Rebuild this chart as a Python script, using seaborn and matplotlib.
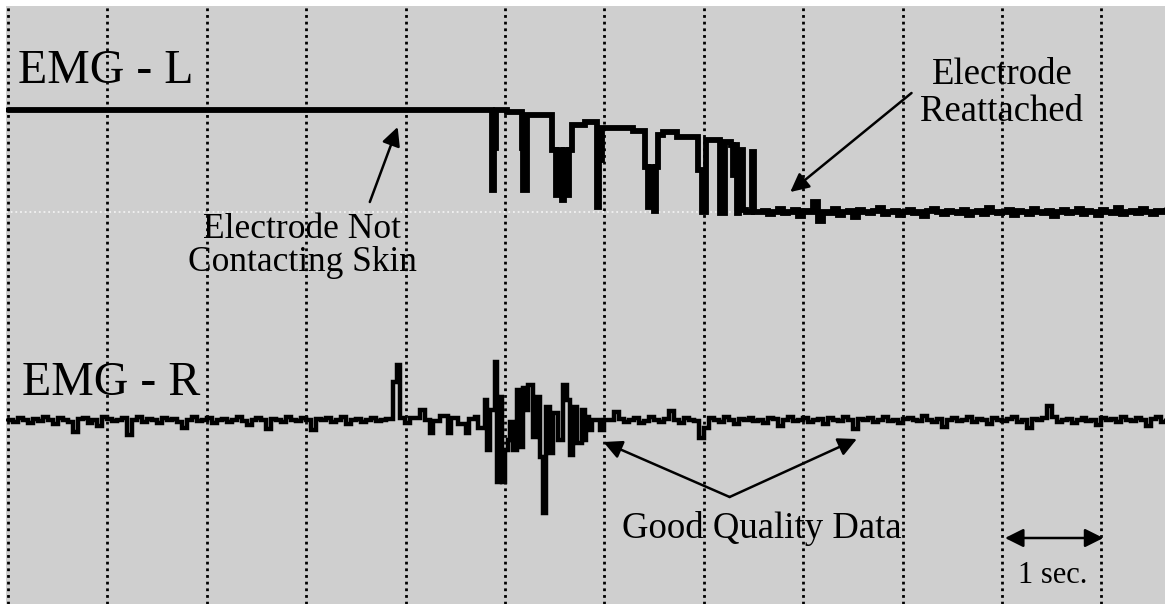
import numpy as np
import pandas as pd
import seaborn as sns
import matplotlib.pyplot as plt

# ---- EMG - L : step breakpoints (time in s, amplitude above baseline) ----
left_t = [0.00, 4.87, 4.89, 4.91, 5.02, 5.17, 5.18, 5.22, 5.47, 5.51, 5.53,
          5.57, 5.59, 5.62, 5.64, 5.67, 5.80, 5.93, 5.95, 5.98, 6.19, 6.29,
          6.41, 6.44, 6.46, 6.50, 6.52, 6.54, 6.59, 6.73, 6.94, 6.98, 7.02,
          7.16, 7.21, 7.27, 7.29, 7.31, 7.33, 7.35, 7.37, 7.39, 7.42, 7.49, 7.51]
left_v = [102, 22, 64, 102, 100, 64, 22, 97, 62, 17, 62,
          12, 62, 17, 62, 87, 90, 5, 52, 84, 84, 81,
          45, 5, 45, 1, 45, 77, 80, 75, 42, 0, 72,
          -1, 70, 67, 37, 67, -1, 37, 62, 2, 0, 60, 0]
# reattached electrode, samples every 0.05 s from 7.55 s
left_noise = [0, 1, -2, 0, 3, -1, 0, 2, -4, 1, 0, 10, -9, 0, -1, 3, -3, 0, 1,
              -5, 2, 0, -1, 1, 4, -2, 0, 1, -3, 0, 2, -1, 0, -4, 1, 3, 0, -2,
              1, 0, -1, 2, -3, 0, 1, -2, 4, 0, -1, 0, 2, -3, 1, 0, -2, 3, 0,
              -1, 1, -4, 0, 2, -1, 0, 3, -2, 1, 0, -3, 2, 0, -1, 4, -2, 0, 1,
              -1, 3, 0, -2, 1, 0, 2]

# ---- EMG - R ----
right_pre = [0, -2, 2, 0, -3, 1, -1, 3, 0, -4,
             2, 0, -2, -12, 1, 2, -3, 0, -6, 3,
             1, -1, 0, 2, -15, 0, 3, -2, 1, 0,
             -3, 2, 0, 1, -2, -8, 0, 3, -1, 0,
             2, -3, 0, 1, -2, 0, 3, -1, -5, 0,
             2, 0, -9, 1, 0, -2, 3, 0, -1, 2,
             0, -10, 1, 0, 2, -2, 0, 3, -4, 0,
             1, -2, 0, 2, -1, 0, 1]
burst_t = [3.87, 3.91, 3.94, 3.99, 4.04, 4.14, 4.20, 4.25, 4.28, 4.35, 4.43,
           4.46, 4.53, 4.61, 4.64, 4.70, 4.73, 4.80, 4.82, 4.85, 4.90, 4.92,
           4.95, 4.97, 5.00, 5.03, 5.05, 5.08, 5.12, 5.15, 5.18, 5.21, 5.23,
           5.28, 5.32, 5.35, 5.38, 5.41, 5.45, 5.48, 5.53, 5.58, 5.62, 5.65,
           5.68, 5.72, 5.77, 5.80, 5.82, 5.85, 5.88, 5.96, 6.00]
burst_v = [38, 55, 2, -3, 2, 10, 0, -13, -1, 4, -13,
           2, -4, -13, 1, 3, -8, 20, -30, 10, 58, -62,
           23, -62, -30, -20, -2, -30, 30, -27, 32, 10, 35,
           -17, 23, -37, -93, 13, -33, 7, -20, 35, 20, -35,
           13, -23, 10, -20, 3, -10, 0, -10, 0]
right_post = [0, 8, 1, -2, 0, 2, -3, -1, 3, 0,
              -2, 1, 9, 0, -3, 2, 0, -1, -18, -8,
              2, 0, -2, 3, 0, -4, 1, 0, 2, -1,
              0, -3, 2, 1, -6, 0, 3, -1, 0, 2,
              -2, 0, 1, -4, 2, 0, -1, 3, 0, -9,
              1, 0, 2, -2, 0, 3, -1, 0, -3, 1,
              2, 0, -1, 4, 0, -2, 1, -7, 0, 2,
              -1, 0, 3, -2, 1, 0, -4, 2, 0, -1,
              1, 3, -2, 0, -8, 1, 0, 2, 14, 3,
              -2, 0, 1, -3, 0, 2, -1, 0, -5, 2,
              0, 1, -2, 3, 0, -1, 2, 0, -6, 1, 3, -2, 0]

left_base, right_base = 392, 184   # vertical position of each trace
step = 0.05

lt = list(left_t) + list(np.round(7.55 + step * np.arange(len(left_noise)), 2))
lv = list(left_v) + left_noise
rt = (list(np.round(step * np.arange(len(right_pre)), 2)) + burst_t
      + list(np.round(6.05 + step * np.arange(len(right_post)), 2)))
rv = right_pre + burst_v + right_post

df_l = pd.DataFrame({'t': lt, 'v': np.array(lv) + left_base})
df_r = pd.DataFrame({'t': rt, 'v': np.array(rv) + right_base})

sns.set_style('white')
plt.rcParams['font.family'] = ['Liberation Serif', 'DejaVu Serif']
plt.rcParams['text.color'] = 'black'

fig = plt.figure(figsize=(11.65, 6.04), dpi=100)
ax = fig.add_axes([6 / 1165, 0, 1159 / 1165, 598 / 604])
ax.set_facecolor('#cfcfcf')

sns.lineplot(data=df_l, x='t', y='v', ax=ax, color='black', lw=4.2,
             drawstyle='steps-post', estimator=None, sort=False,
             solid_joinstyle='miter')
sns.lineplot(data=df_r, x='t', y='v', ax=ax, color='black', lw=3.2,
             drawstyle='steps-post', estimator=None, sort=False,
             solid_joinstyle='miter')

ax.set_xlim(-0.02, 11.64)
ax.set_ylim(0, 598)

# dotted 1-second grid
ax.set_xticks(range(12))
ax.set_yticks([left_base])
ax.xaxis.grid(True, color='black', lw=2.0, linestyle=(0, (1, 1.4)))
ax.yaxis.grid(True, color='#f2f2f2', lw=1.3, linestyle=(0, (1, 1.6)))
ax.set_axisbelow(True)
ax.tick_params(length=0, labelbottom=False, labelleft=False)
ax.set_xlabel('')
ax.set_ylabel('')
for s in ax.spines.values():
    s.set_visible(False)

# labels
ax.text(0.10, 521, 'EMG - L', fontsize=34.5, va='baseline', ha='left')
ax.text(0.14, 209, 'EMG - R', fontsize=34.5, va='baseline', ha='left')

ax.text(2.96, 366, 'Electrode Not', fontsize=25.5, ha='center', va='baseline')
ax.text(2.96, 333, 'Contacting Skin', fontsize=25.5, ha='center', va='baseline')
ax.text(10.0, 520, 'Electrode', fontsize=26.5, ha='center', va='baseline')
ax.text(10.0, 483, 'Reattached', fontsize=26.5, ha='center', va='baseline')
ax.text(7.58, 66, 'Good Quality Data', fontsize=26.5, ha='center', va='baseline')
ax.text(10.51, 21, '1 sec.', fontsize=22, ha='center', va='baseline')

arrow = dict(arrowstyle='-|>', color='black', lw=1.8, mutation_scale=28,
             shrinkA=0, shrinkB=0)
ax.annotate('', xy=(3.92, 477), xytext=(3.64, 402), arrowprops=arrow)
ax.annotate('', xy=(7.87, 412), xytext=(9.09, 511), arrowprops=arrow)
ax.annotate('', xy=(5.99, 162), xytext=(7.26, 107), arrowprops=arrow)
ax.annotate('', xy=(8.54, 165), xytext=(7.26, 107), arrowprops=arrow)
ax.annotate('', xy=(11.02, 66), xytext=(10.03, 66),
            arrowprops=dict(arrowstyle='<|-|>', color='black', lw=1.8,
                            mutation_scale=28, shrinkA=0, shrinkB=0))

fig.savefig('out.png', dpi=100, facecolor='white')
